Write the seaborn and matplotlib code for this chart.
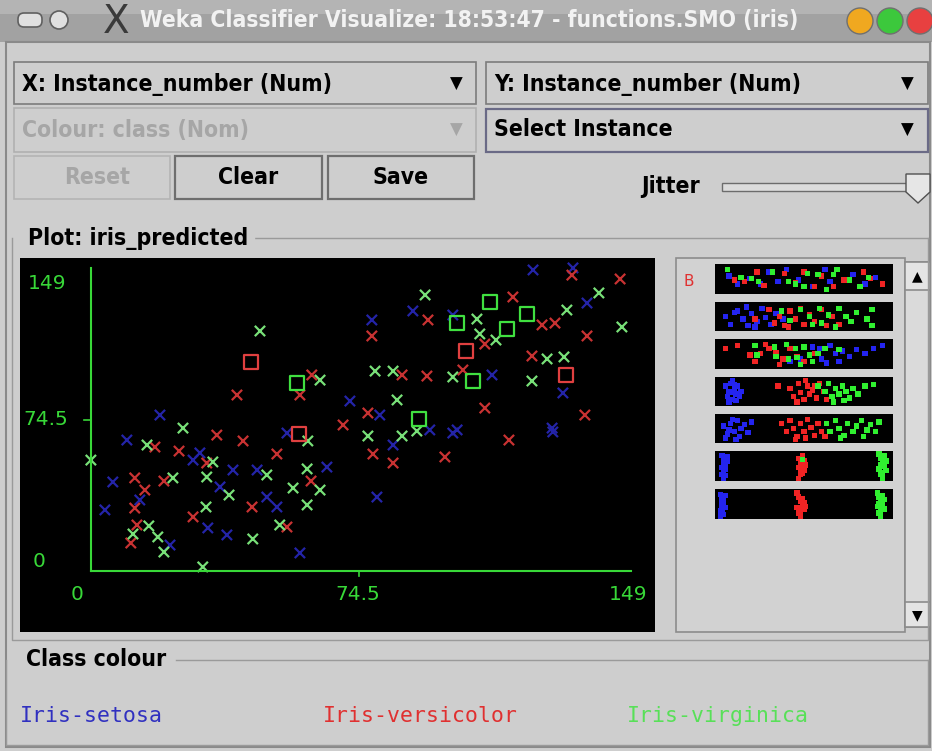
import pandas as pd
import seaborn as sns
import matplotlib.pyplot as plt
from matplotlib.patches import Rectangle, Circle, FancyBboxPatch

# main plot: instance number vs instance number (jittered)
setosa_x = [19.2, 89.5, 78.1, 80.3, 72.0, 54.5, 134.0, 122.9, 131.2, 128.2, 111.5, 100.6, 137.9,
            94.2, 101.8, 13.6, 6.1, 3.9, 32.5, 37.8, 39.5, 28.4, 58.1, 46.2, 51.7, 48.9, 79.5,
            65.6, 84.0, 100.6, 128.4, 22.0, 30.3, 35.9, 10.0]
setosa_y = [77.2, 133.8, 128.9, 77.2, 84.8, 67.4, 157.2, 156.1, 89.2, 70.1, 99.0, 131.6, 138.1,
            69.1, 69.1, 31.0, 40.8, 25.6, 15.8, 12.0, 47.3, 52.7, 2.2, 47.3, 27.2, 32.6, 32.6,
            48.9, 60.9, 67.4, 68.0, 6.5, 56.6, 38.1, 63.6]

versicolor_x = [35.0, 40.6, 93.7, 78.1, 61.4, 58.1, 86.5, 93.4, 70.1, 77.0, 42.3, 117.3, 109.5,
                125.4, 129.0, 147.1, 133.7, 137.9, 122.6, 103.4, 109.5, 137.3, 116.2, 17.8, 24.5,
                32.2, 12.2, 20.3, 15.0, 12.2, 28.4, 12.8, 11.1, 51.7, 78.4, 84.0, 61.2, 44.8,
                54.5, 98.4]
versicolor_y = [66.3, 88.1, 128.9, 120.2, 99.0, 88.1, 99.0, 98.4, 71.8, 78.3, 63.1, 141.4, 115.8,
                126.2, 127.2, 151.2, 153.3, 120.2, 109.3, 101.7, 81.0, 77.2, 63.6, 59.8, 57.6,
                51.1, 43.0, 41.3, 36.4, 26.6, 21.8, 17.4, 7.6, 56.0, 56.0, 51.1, 41.3, 27.2,
                16.3, 54.4]

virginica_x = [25.6, 15.6, 92.9, 47.0, 63.7, 79.0, 84.0, 85.1, 60.3, 77.0, 86.5, 90.6, 107.3,
               108.1, 112.6, 132.3, 141.2, 147.6, 126.8, 131.5, 100.6, 122.6, 0.0, 33.9, 22.8,
               32.2, 32.0, 38.4, 16.1, 11.7, 18.6, 20.3, 31.1, 48.9, 60.1, 56.2, 63.7, 60.1,
               52.5, 45.0]
virginica_y = [70.1, 60.9, 142.5, 122.9, 96.2, 101.1, 101.1, 85.4, 63.1, 65.8, 65.8, 68.5, 129.4,
               121.3, 118.0, 134.3, 143.6, 125.1, 107.7, 108.8, 97.9, 95.7, 52.7, 51.7, 43.0,
               43.5, 27.2, 33.7, 16.9, 12.5, 10.9, 2.7, -5.4, 44.6, 47.9, 37.5, 36.4, 28.3,
               17.4, 9.8]

# misclassified instances (drawn as squares)
wrong_versicolor_x = [44.5, 57.8, 104.3, 132.1]
wrong_versicolor_y = [106.0, 66.9, 112.0, 99.0]
wrong_virginica_x = [57.3, 91.2, 110.9, 121.2, 101.8, 115.7, 106.2]
wrong_virginica_y = [94.6, 75.0, 138.7, 132.1, 127.2, 124.0, 95.7]

tick_values = [0, 74.5, 149]
tick_labels = ["0", "74.5", "149"]

classes = ["Iris-setosa", "Iris-versicolor", "Iris-virginica"]

# attribute strips on the right: relative positions per class
strips = [
    {"Iris-setosa": ([0.07, 0.12, 0.19, 0.25, 0.30, 0.35, 0.40, 0.47, 0.62, 0.65, 0.78, 0.91, 0.55, 0.85],
                     [0.4, 0.7, 0.5, 0.7, 0.25, 0.6, 0.15, 0.55, 0.15, 0.6, 0.35, 0.45, 0.8, 0.7]),
     "Iris-versicolor": ([0.10, 0.23, 0.27, 0.39, 0.50, 0.56, 0.67, 0.73, 0.84, 0.95, 0.16, 0.45, 0.60, 0.88],
                         [0.55, 0.25, 0.75, 0.3, 0.25, 0.8, 0.8, 0.55, 0.25, 0.7, 0.6, 0.65, 0.4, 0.5]),
     "Iris-virginica": ([0.06, 0.14, 0.24, 0.32, 0.41, 0.50, 0.52, 0.58, 0.67, 0.69, 0.76, 0.82, 0.87, 0.20, 0.45, 0.63],
                        [0.15, 0.45, 0.6, 0.25, 0.6, 0.8, 0.3, 0.35, 0.35, 0.15, 0.55, 0.8, 0.45, 0.5, 0.7, 0.9])},
    {"Iris-setosa": ([0.05, 0.08, 0.12, 0.15, 0.18, 0.20, 0.23, 0.26, 0.28, 0.31, 0.34, 0.10, 0.17, 0.22, 0.38],
                     [0.5, 0.8, 0.3, 0.6, 0.85, 0.4, 0.7, 0.2, 0.55, 0.8, 0.4, 0.35, 0.15, 0.9, 0.6]),
     "Iris-versicolor": ([0.22, 0.30, 0.33, 0.36, 0.39, 0.42, 0.45, 0.48, 0.50, 0.53, 0.56, 0.60, 0.63, 0.66, 0.70, 0.41],
                         [0.6, 0.25, 0.75, 0.5, 0.85, 0.3, 0.6, 0.2, 0.8, 0.45, 0.7, 0.25, 0.85, 0.5, 0.8, 0.9]),
     "Iris-virginica": ([0.37, 0.42, 0.48, 0.53, 0.55, 0.59, 0.64, 0.70, 0.74, 0.77, 0.80, 0.86, 0.89, 0.89, 0.60, 0.68],
                        [0.3, 0.65, 0.25, 0.5, 0.8, 0.2, 0.45, 0.2, 0.5, 0.7, 0.35, 0.6, 0.25, 0.85, 0.75, 0.9])},
    {"Iris-setosa": ([0.42, 0.48, 0.55, 0.59, 0.60, 0.65, 0.68, 0.72, 0.76, 0.80, 0.85, 0.90, 0.95, 0.63, 0.70],
                     [0.8, 0.7, 0.25, 0.3, 0.7, 0.2, 0.5, 0.4, 0.6, 0.35, 0.5, 0.3, 0.2, 0.85, 0.8]),
     "Iris-versicolor": ([0.05, 0.12, 0.19, 0.25, 0.30, 0.34, 0.38, 0.42, 0.46, 0.50, 0.22, 0.28, 0.36, 0.56],
                         [0.3, 0.2, 0.55, 0.5, 0.3, 0.45, 0.7, 0.3, 0.6, 0.8, 0.8, 0.15, 0.9, 0.5]),
     "Iris-virginica": ([0.22, 0.23, 0.33, 0.34, 0.40, 0.41, 0.45, 0.46, 0.50, 0.53, 0.55, 0.58, 0.62, 0.48, 0.70],
                        [0.2, 0.55, 0.25, 0.6, 0.15, 0.7, 0.3, 0.65, 0.25, 0.55, 0.8, 0.5, 0.3, 0.9, 0.35])},
    {"Iris-setosa": ([0.05, 0.06, 0.07, 0.08, 0.09, 0.10, 0.11, 0.12, 0.13, 0.07, 0.09, 0.11, 0.14, 0.08, 0.10],
                     [0.3, 0.7, 0.5, 0.2, 0.8, 0.4, 0.6, 0.3, 0.7, 0.9, 0.1, 0.85, 0.5, 0.55, 0.25]),
     "Iris-versicolor": ([0.35, 0.42, 0.44, 0.47, 0.48, 0.50, 0.52, 0.53, 0.55, 0.57, 0.59, 0.61, 0.63, 0.46, 0.51, 0.56],
                         [0.3, 0.4, 0.7, 0.2, 0.55, 0.8, 0.3, 0.6, 0.45, 0.75, 0.2, 0.5, 0.8, 0.9, 0.1, 0.3]),
     "Iris-virginica": ([0.58, 0.62, 0.64, 0.66, 0.68, 0.70, 0.72, 0.74, 0.76, 0.78, 0.81, 0.85, 0.90, 0.67, 0.73],
                        [0.3, 0.5, 0.2, 0.7, 0.4, 0.6, 0.3, 0.5, 0.75, 0.4, 0.6, 0.3, 0.25, 0.9, 0.85])},
    {"Iris-setosa": ([0.04, 0.06, 0.08, 0.10, 0.12, 0.14, 0.05, 0.09, 0.13, 0.16, 0.20, 0.07, 0.11, 0.18],
                     [0.4, 0.7, 0.3, 0.6, 0.2, 0.5, 0.85, 0.15, 0.8, 0.35, 0.25, 0.55, 0.9, 0.65]),
     "Iris-versicolor": ([0.37, 0.40, 0.42, 0.44, 0.46, 0.48, 0.50, 0.52, 0.54, 0.56, 0.58, 0.60, 0.62, 0.45, 0.51],
                         [0.3, 0.6, 0.2, 0.5, 0.8, 0.3, 0.6, 0.15, 0.45, 0.75, 0.3, 0.6, 0.8, 0.9, 0.85]),
     "Iris-virginica": ([0.63, 0.65, 0.68, 0.70, 0.73, 0.75, 0.78, 0.80, 0.83, 0.86, 0.88, 0.91, 0.93, 0.71, 0.84],
                        [0.3, 0.6, 0.2, 0.5, 0.75, 0.3, 0.6, 0.4, 0.2, 0.55, 0.35, 0.6, 0.25, 0.85, 0.8])},
    {"Iris-setosa": ([0.03, 0.04, 0.05, 0.03, 0.04, 0.05, 0.06, 0.04, 0.03, 0.05, 0.04, 0.06],
                     [0.1, 0.25, 0.4, 0.55, 0.7, 0.85, 0.3, 0.95, 0.8, 0.6, 0.45, 0.15]),
     "Iris-versicolor": ([0.47, 0.48, 0.49, 0.50, 0.48, 0.47, 0.49, 0.51, 0.48, 0.50, 0.49, 0.47],
                         [0.2, 0.35, 0.5, 0.65, 0.8, 0.95, 0.1, 0.45, 0.6, 0.3, 0.75, 0.55]),
     "Iris-virginica": ([0.93, 0.94, 0.95, 0.96, 0.97, 0.94, 0.95, 0.96, 0.93, 0.97, 0.95, 0.94, 0.49],
                        [0.05, 0.2, 0.35, 0.5, 0.65, 0.8, 0.95, 0.1, 0.6, 0.3, 0.75, 0.45, 0.25])},
    {"Iris-setosa": ([0.02, 0.03, 0.04, 0.03, 0.02, 0.04, 0.05, 0.03, 0.02, 0.04, 0.03, 0.05],
                     [0.15, 0.3, 0.45, 0.6, 0.75, 0.9, 0.2, 0.5, 0.95, 0.35, 0.8, 0.65]),
     "Iris-versicolor": ([0.46, 0.47, 0.48, 0.49, 0.50, 0.47, 0.48, 0.49, 0.51, 0.48, 0.50, 0.46],
                         [0.1, 0.25, 0.4, 0.55, 0.7, 0.85, 0.95, 0.3, 0.6, 0.75, 0.45, 0.65]),
     "Iris-virginica": ([0.92, 0.93, 0.94, 0.95, 0.96, 0.93, 0.94, 0.95, 0.92, 0.96, 0.94, 0.93],
                        [0.1, 0.25, 0.4, 0.55, 0.7, 0.85, 0.95, 0.2, 0.6, 0.35, 0.75, 0.5])},
]

colors = {"Iris-setosa": "#2424a8", "Iris-versicolor": "#c83232", "Iris-virginica": "#78e078"}
legend_colors = {"Iris-setosa": "#3030c0", "Iris-versicolor": "#e03030", "Iris-virginica": "#58e058"}
strip_colors = {"Iris-setosa": "#2424f0", "Iris-versicolor": "#f02424", "Iris-virginica": "#30f030"}

W, H = 932, 751
GUI = "#cecece"
fig = plt.figure(figsize=(W / 100, H / 100), dpi=100, facecolor=GUI)

bg = fig.add_axes([0, 0, 1, 1])
bg.set_xlim(0, W)
bg.set_ylim(H, 0)
bg.axis("off")

def box(x0, y0, x1, y1, fc=GUI, ec="#7c7c7c", lw=1.2, z=1):
    bg.add_patch(Rectangle((x0, y0), x1 - x0, y1 - y0, fc=fc, ec=ec, lw=lw, zorder=z))

def label(x, y, s, color="black", ha="left", size=16.5, **kw):
    bg.text(x, y, s, fontsize=size, fontweight="bold", fontstretch="condensed",
            color=color, ha=ha, va="center", **kw)

# title bar
bg.add_patch(Rectangle((0, 0), W, 42, fc="#a2a2a2", ec="none"))
bg.add_patch(Rectangle((0, 0), W, 14, fc="#b4b4b4", ec="none"))
bg.add_patch(FancyBboxPatch((20, 15), 20, 10, boxstyle="round,pad=2,rounding_size=6",
                            fc="#e0e0e0", ec="#606060", lw=1.2))
bg.add_patch(Circle((59, 20), 9, fc="#e0e0e0", ec="#606060", lw=1.2))
bg.text(116, 22, "X", fontsize=28, color="#3a3a3a", ha="center", va="center")
label(140, 21, "Weka Classifier Visualize: 18:53:47 - functions.SMO (iris)", color="#f2f2f2",
      size=16.4)
for cx, c in [(860, "#f0a820"), (890, "#3cc83c"), (920, "#e84040")]:
    bg.add_patch(Circle((cx, 21), 13, fc=c, ec="#707070", lw=1))

# window frame
bg.add_patch(Rectangle((6, 42), W - 8, H - 46, fc="none", ec="#8a8a8a", lw=1.5))

grey_txt = "#a6a6a6"
# selectors
box(14, 62, 476, 104)
label(22, 84, "X: Instance_number (Num)")
bg.text(456, 84, "\u25BC", fontsize=12, va="center", ha="center")
box(486, 62, 928, 104)
label(494, 84, "Y: Instance_number (Num)")
bg.text(907, 84, "\u25BC", fontsize=12, va="center", ha="center")
box(14, 108, 476, 152, ec="#b0b0b0")
label(22, 130, "Colour: class (Nom)", color=grey_txt)
bg.text(456, 130, "\u25BC", fontsize=12, va="center", ha="center", color=grey_txt)
box(486, 109, 928, 152, ec="#6a6a86", lw=1.6)
label(494, 130, "Select Instance")
bg.text(907, 130, "\u25BC", fontsize=12, va="center", ha="center")

# buttons
box(14, 156, 170, 199, ec="#b4b4b4")
label(97, 178, "Reset", color=grey_txt, ha="center")
box(175, 156, 322, 199, ec="#6e6e6e", lw=1.6)
label(248, 178, "Clear", ha="center")
box(328, 156, 474, 199, ec="#6e6e6e", lw=1.6)
label(401, 178, "Save", ha="center")

# jitter slider
label(700, 187, "Jitter", ha="right")
box(722, 183, 912, 191, fc="#dcdcdc", ec="#6c6c6c", lw=1)
bg.add_patch(plt.Polygon([(906, 174), (930, 174), (930, 192), (918, 203), (906, 192)],
                         fc="#e6e6e6", ec="#505050", lw=1, zorder=3))

# group borders
bg.plot([12, 12, W - 4, W - 4], [238, 640, 640, 238], color="#9a9a9a", lw=1)
bg.plot([250, W - 4], [238, 238], color="#9a9a9a", lw=1)
label(28, 238, "Plot: iris_predicted", backgroundcolor=GUI)
bg.plot([6, 6, W - 4, W - 4], [660, 745, 745, 660], color="#9a9a9a", lw=1)
bg.plot([176, W - 4], [660, 660], color="#9a9a9a", lw=1)
label(26, 660, "Class colour")

for name, x0 in zip(classes, [20, 323, 627]):
    bg.text(x0, 716, name, fontsize=15.5, family="DejaVu Sans Mono", color=legend_colors[name],
            va="center")

# right attribute panel and scrollbar
box(676, 258, 905, 632, fc="#d2d2d2", ec="#8c8c8c")
box(905, 262, 930, 627, fc="#dadada", ec="#8c8c8c")
box(905, 262, 930, 290, fc="#e4e4e4", ec="#8c8c8c")
box(905, 602, 930, 627, fc="#e4e4e4", ec="#8c8c8c")
bg.text(917, 276, "\u25B2", fontsize=10, ha="center", va="center")
bg.text(917, 615, "\u25BC", fontsize=10, ha="center", va="center")
bg.text(689, 281, "B", fontsize=11, color="#e03030", ha="center", va="center")

# main scatter
ax = fig.add_axes([20 / W, 1 - 632 / H, 635 / W, 374 / H])
ax.set_facecolor("black")

points = pd.concat([
    pd.DataFrame({"x": setosa_x, "y": setosa_y, "cls": "Iris-setosa"}),
    pd.DataFrame({"x": versicolor_x, "y": versicolor_y, "cls": "Iris-versicolor"}),
    pd.DataFrame({"x": virginica_x, "y": virginica_y, "cls": "Iris-virginica"}),
], ignore_index=True)
wrong = pd.concat([
    pd.DataFrame({"x": wrong_versicolor_x, "y": wrong_versicolor_y, "cls": "Iris-versicolor"}),
    pd.DataFrame({"x": wrong_virginica_x, "y": wrong_virginica_y, "cls": "Iris-virginica"}),
], ignore_index=True)

sns.scatterplot(data=points, x="x", y="y", hue="cls", palette=colors, marker="x", s=55,
                linewidth=1.6, legend=False, ax=ax)
sns.scatterplot(data=wrong, x="x", y="y", hue="cls",
                palette={"Iris-versicolor": "#e04040", "Iris-virginica": "#40e040"},
                marker="s", s=110, legend=False, ax=ax)
sq = ax.collections[-1]
sq.set_edgecolors(sq.get_facecolors())
sq.set_facecolors("none")
sq.set_linewidths(1.6)

axis_green = "#38d838"
ax.plot([0, 0], [-7.6, 157], color=axis_green, lw=1.5)
ax.plot([0, 150], [-7.6, -7.6], color=axis_green, lw=1.5)
ax.plot([-2, 0], [tick_values[1], tick_values[1]], color=axis_green, lw=1.2)
ax.plot([tick_values[1], tick_values[1]], [-7.6, -10.5], color=axis_green, lw=1.2)
TF = 14.5
ax.text(-17.5, tick_values[2], tick_labels[2], color=axis_green, fontsize=TF, va="center")
ax.text(-18.8, tick_values[1], tick_labels[1], color=axis_green, fontsize=TF, va="center")
ax.text(-16.1, tick_values[0] - 2.2, tick_labels[0], color=axis_green, fontsize=TF, va="center")
for v, lab, dx in zip(tick_values, tick_labels, [-3.9, -0.3, 0.3]):
    ax.text(v + dx, -20.5, lab, color=axis_green, fontsize=TF, va="center", ha="center")

ax.set_xlim(-19.7, 156.8)
ax.set_ylim(-40.8, 162.6)
ax.set_xticks([])
ax.set_yticks([])
ax.set_xlabel("")
ax.set_ylabel("")
for sp in ax.spines.values():
    sp.set_visible(False)

# strips
for i, strip in enumerate(strips):
    top = 264 + i * 37.5
    sax = fig.add_axes([715 / W, 1 - (top + 29.5) / H, 178 / W, 29.5 / H])
    sax.set_facecolor("black")
    df = pd.concat([pd.DataFrame({"x": xs, "y": ys, "cls": name})
                    for name, (xs, ys) in strip.items()], ignore_index=True)
    sns.scatterplot(data=df, x="x", y="y", hue="cls", palette=strip_colors, marker="s", s=15,
                    linewidth=0, legend=False, ax=sax)
    sax.set_xlim(-0.01, 1.01)
    sax.set_ylim(1.05, -0.05)
    sax.set_xticks([])
    sax.set_yticks([])
    sax.set_xlabel("")
    sax.set_ylabel("")
    for sp in sax.spines.values():
        sp.set_visible(False)

fig.savefig("out.png", dpi=100, facecolor=GUI)
